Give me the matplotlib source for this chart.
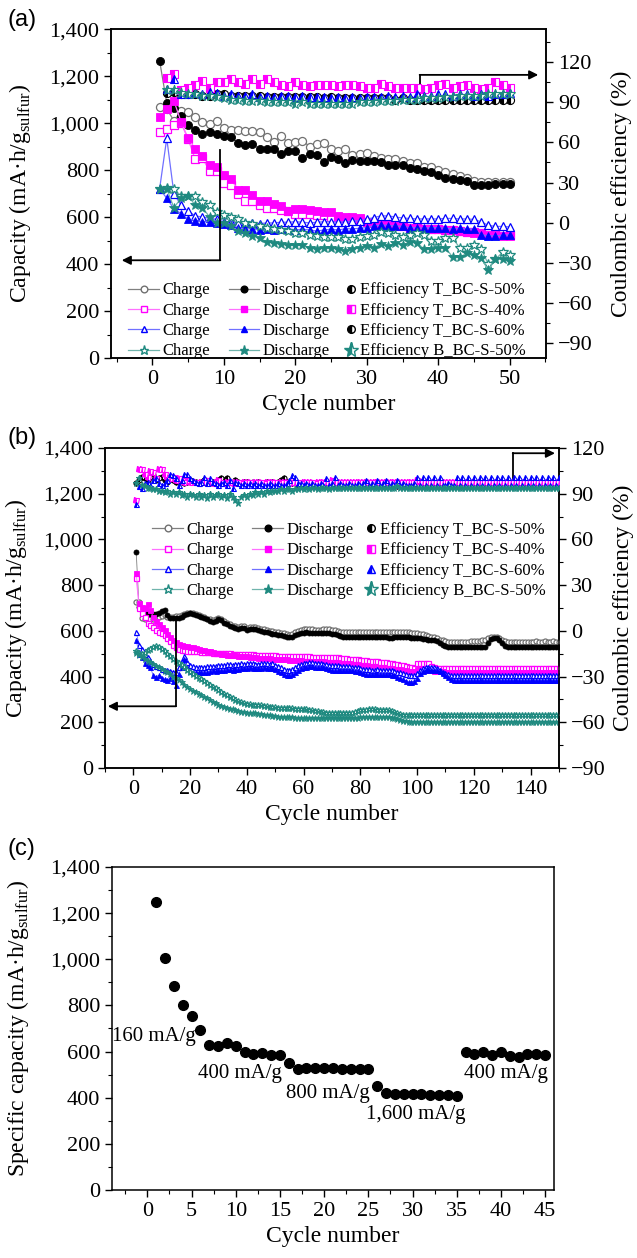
#!/usr/bin/env python3
"""根据读取的循环数据绘制三联图 (a)(b)(c)，写出 out.png。"""

from __future__ import annotations

import matplotlib

matplotlib.use("Agg")
import matplotlib.pyplot as plt
from matplotlib.lines import Line2D
from matplotlib.ticker import FuncFormatter, MultipleLocator

plt.rcParams["font.family"] = ["Liberation Serif", "DejaVu Serif"]
plt.rcParams["mathtext.fontset"] = "custom"
plt.rcParams["mathtext.rm"] = "Liberation Serif"
plt.rcParams["axes.linewidth"] = 1.1

# ---------------- 数据：图 (a)，50 次循环 ----------------
A_CYCLES = list(range(1, 51))
A_EFF_CYCLES = list(range(2, 51))

A_T50_CHARGE = [1070, 1060, 1010, 1050, 1045, 1025, 1005, 995, 1010, 980,
                970, 970, 965, 965, 960, 940, 920, 945, 915, 920,
                925, 900, 910, 915, 890, 880, 890, 865, 870, 872,
                860, 852, 848, 845, 840, 832, 830, 815, 812, 800,
                790, 785, 773, 768, 752, 750, 748, 748, 750, 748]
A_T50_DISCHARGE = [1265, 1085, 1065, 1030, 990, 970, 955, 960, 955, 945,
                   940, 915, 905, 910, 890, 890, 890, 870, 880, 880,
                   850, 870, 865, 835, 855, 845, 828, 842, 840, 838,
                   840, 835, 822, 822, 820, 808, 805, 798, 790, 778,
                   765, 762, 758, 752, 738, 738, 738, 740, 742, 740]
A_T40_CHARGE = [960, 975, 990, 1000, 930, 845, 850, 795, 795, 745,
                735, 700, 670, 670, 650, 640, 640, 630, 625, 615,
                615, 615, 610, 610, 600, 600, 595, 590, 590, 580,
                575, 570, 565, 560, 560, 555, 555, 550, 550, 548,
                545, 545, 540, 538, 535, 532, 530, 528, 526, 525]
A_T40_DISCHARGE = [1025, 1060, 1095, 1005, 935, 890, 860, 820, 815, 780,
                   760, 715, 715, 695, 670, 670, 655, 645, 625, 635,
                   635, 630, 625, 620, 620, 605, 600, 600, 595, 580,
                   575, 570, 565, 565, 560, 555, 555, 550, 550, 550,
                   545, 545, 540, 535, 530, 530, 525, 525, 520, 520]
A_T60_CHARGE = [720, 935, 700, 650, 625, 605, 600, 595, 590, 580,
                580, 575, 575, 575, 572, 575, 575, 578, 578, 580,
                578, 575, 578, 580, 580, 578, 580, 582, 585, 590,
                598, 605, 605, 600, 596, 594, 592, 592, 592, 592,
                594, 594, 592, 592, 590, 580, 565, 560, 560, 558]
A_T60_DISCHARGE = [720, 680, 635, 615, 590, 585, 580, 580, 575, 570,
                   565, 555, 550, 550, 545, 548, 545, 548, 550, 545,
                   548, 545, 540, 545, 548, 545, 550, 550, 552, 555,
                   562, 566, 564, 562, 560, 555, 555, 552, 555, 555,
                   552, 550, 552, 550, 548, 525, 520, 520, 522, 525]
A_B50_CHARGE = [720, 725, 720, 690, 690, 690, 665, 650, 620, 610,
                600, 590, 575, 570, 560, 555, 550, 545, 540, 530,
                530, 525, 520, 515, 515, 515, 505, 505, 515, 520,
                525, 535, 530, 525, 515, 525, 530, 525, 500, 500,
                510, 510, 470, 470, 480, 465, 400, 420, 450, 440]
A_B50_DISCHARGE = [720, 720, 640, 680, 690, 650, 640, 600, 575, 575,
                   560, 540, 530, 520, 510, 495, 490, 485, 480, 480,
                   480, 470, 465, 470, 470, 465, 455, 465, 470, 475,
                   470, 485, 475, 490, 480, 495, 490, 465, 465, 470,
                   470, 430, 430, 445, 440, 425, 375, 420, 420, 415]

A_T50_EFF = [97, 98, 96, 96, 96, 95, 95, 96, 96, 95,
             95, 95, 95, 95, 94, 94, 94, 94, 94, 94,
             94, 94, 93, 94, 93, 93, 93, 93, 93, 93,
             93, 93, 92, 93, 92, 92, 92, 92, 92, 92,
             92, 92, 92, 92, 92, 92, 92, 92, 92]
A_T40_EFF = [108, 111, 99, 101, 103, 106, 101, 105, 105, 107,
             105, 104, 107, 104, 107, 105, 103, 102, 105, 103,
             102, 103, 103, 103, 102, 103, 103, 102, 101, 101,
             104, 102, 101, 101, 101, 101, 100, 101, 103, 104,
             101, 102, 103, 101, 100, 101, 105, 103, 101]
A_T60_EFF = [100, 107, 96, 96, 97, 96, 98, 97, 95, 96,
             95, 95, 96, 94, 95, 94, 95, 95, 94, 95,
             94, 94, 94, 93, 94, 93, 94, 93, 94, 94,
             94, 95, 94, 95, 94, 96, 95, 95, 96, 96,
             95, 96, 96, 95, 96, 95, 96, 96, 97]
A_B50_EFF = [99, 99, 97, 96, 96, 95, 95, 94, 93, 92,
             92, 91, 91, 91, 90, 90, 90, 90, 89, 90,
             89, 89, 89, 89, 89, 89, 89, 90, 90, 90,
             91, 91, 91, 92, 92, 92, 93, 93, 93, 94,
             94, 95, 95, 95, 95, 96, 96, 96, 96]

# ---------------- 数据：图 (b)，150 次循环 ----------------
B_CYCLES = list(range(1, 151))

B_T50_DISCHARGE = [
    945, 705, 690, 682, 677, 675, 672, 675, 680, 688,
    690, 670, 656, 655, 657, 655, 662, 668, 672, 677,
    675, 670, 664, 660, 655, 650, 645, 640, 645, 652,
    648, 636, 628, 620, 615, 612, 610, 614, 612, 605,
    608, 610, 610, 604, 598, 596, 594, 590, 588, 585,
    584, 580, 577, 574, 572, 575, 582, 588, 590, 592,
    593, 592, 590, 590, 591, 590, 590, 589, 589, 588,
    585, 580, 576, 574, 575, 574, 573, 574, 574, 574,
    574, 574, 573, 573, 572, 572, 572, 571, 571, 570,
    570, 571, 572, 572, 572, 572, 571, 570, 570, 570,
    568, 566, 564, 562, 560, 558, 555, 548, 540, 533,
    531, 531, 531, 531, 531, 531, 531, 531, 531, 531,
    531, 531, 531, 531, 545, 565, 569, 568, 560, 548,
    535, 530, 530, 530, 530, 530, 530, 530, 530, 530,
    530, 530, 530, 530, 530, 530, 530, 530, 530, 530]
B_T50_CHARGE = [
    728, 725, 655, 650, 650, 650, 652, 655, 660, 665,
    668, 662, 660, 662, 664, 663, 668, 672, 676, 680,
    679, 674, 668, 664, 659, 654, 650, 646, 651, 658,
    654, 642, 634, 628, 622, 620, 618, 622, 620, 614,
    616, 618, 618, 612, 608, 606, 604, 600, 598, 596,
    595, 592, 589, 586, 584, 588, 594, 600, 604, 606,
    607, 607, 606, 605, 605, 605, 606, 607, 606, 605,
    602, 598, 596, 596, 596, 595, 595, 596, 596, 596,
    595, 595, 594, 594, 594, 594, 593, 593, 593, 593,
    593, 594, 594, 594, 594, 594, 593, 592, 592, 591,
    588, 585, 582, 578, 575, 572, 568, 562, 558, 555,
    553, 552, 552, 552, 552, 552, 552, 553, 554, 555,
    556, 557, 558, 560, 570, 575, 575, 572, 568, 562,
    556, 553, 553, 553, 553, 553, 553, 553, 553, 553,
    553, 554, 553, 553, 554, 553, 553, 554, 553, 553]
B_T40_DISCHARGE = [
    855, 720, 705, 700, 718, 690, 660, 645, 628, 615,
    602, 588, 572, 560, 550, 542, 538, 535, 532, 530,
    528, 525, 522, 518, 515, 512, 510, 508, 505, 502,
    500, 498, 496, 495, 494, 493, 492, 490, 490, 488,
    486, 485, 484, 483, 482, 481, 480, 480, 479, 478,
    478, 477, 476, 475, 474, 473, 472, 472, 471, 470,
    470, 469, 468, 468, 467, 466, 466, 465, 465, 464,
    463, 462, 461, 460, 459, 458, 456, 455, 453, 452,
    450, 449, 447, 446, 444, 443, 441, 440, 439, 438,
    436, 435, 433, 432, 430, 428, 426, 424, 424, 432,
    434, 433, 432, 430, 428, 426, 425, 424, 423, 422,
    422, 422, 421, 421, 421, 421, 421, 421, 421, 421,
    421, 421, 421, 421, 421, 421, 421, 421, 421, 421,
    421, 421, 421, 421, 421, 421, 421, 421, 421, 421,
    421, 421, 421, 421, 421, 421, 421, 421, 421, 421]
B_T40_CHARGE = [
    830, 700, 680, 660, 635, 625, 615, 605, 595, 590,
    580, 570, 555, 540, 528, 522, 518, 515, 514, 513,
    512, 511, 510, 509, 508, 507, 506, 505, 504, 503,
    502, 502, 501, 501, 500, 500, 499, 499, 498, 498,
    497, 497, 496, 496, 495, 495, 494, 494, 493, 493,
    492, 492, 491, 491, 490, 490, 490, 489, 489, 488,
    488, 488, 487, 487, 487, 487, 487, 487, 486, 486,
    485, 484, 483, 482, 480, 479, 477, 476, 475, 474,
    472, 471, 470, 468, 467, 466, 464, 463, 462, 460,
    458, 456, 454, 452, 450, 447, 444, 440, 437, 458,
    459, 459, 459, 458, 445, 440, 438, 437, 437, 437,
    437, 437, 438, 437, 437, 438, 437, 437, 438, 437,
    437, 438, 437, 437, 438, 437, 437, 438, 437, 437,
    438, 437, 437, 438, 437, 437, 438, 437, 437, 438,
    437, 437, 438, 437, 437, 438, 437, 437, 438, 437]
B_T60_DISCHARGE = [
    560, 500, 485, 460, 450, 440, 405, 400, 405, 395,
    390, 385, 395, 380, 365, 410, 440, 478, 440, 425,
    420, 420, 418, 420, 422, 420, 425, 428, 425, 430,
    428, 430, 432, 435, 430, 432, 435, 438, 436, 438,
    440, 438, 437, 436, 438, 440, 438, 436, 438, 432,
    425, 418, 410, 405, 408, 412, 420, 430, 438, 440,
    442, 445, 445, 444, 443, 442, 440, 436, 432, 430,
    430, 430, 429, 428, 428, 428, 427, 426, 424, 420,
    414, 412, 411, 410, 410, 411, 412, 412, 411, 410,
    408, 405, 400, 395, 388, 382, 378, 378, 380, 395,
    415, 425, 430, 431, 430, 430, 428, 425, 415, 405,
    396, 390, 386, 385, 385, 385, 385, 385, 385, 385,
    385, 385, 385, 385, 385, 385, 385, 385, 385, 385,
    385, 385, 385, 385, 385, 385, 385, 385, 385, 385,
    385, 385, 385, 385, 385, 385, 385, 385, 385, 385]
B_T60_CHARGE = [
    595, 540, 520, 500, 485, 470, 455, 445, 440, 435,
    430, 428, 425, 422, 420, 440, 470, 488, 465, 450,
    445, 442, 440, 440, 442, 445, 445, 447, 448, 450,
    450, 452, 453, 455, 452, 454, 456, 458, 456, 458,
    460, 458, 457, 456, 458, 460, 458, 456, 458, 452,
    448, 440, 432, 428, 430, 435, 442, 450, 456, 458,
    460, 462, 462, 461, 460, 459, 457, 455, 452, 450,
    450, 449, 448, 447, 446, 445, 444, 442, 440, 438,
    434, 432, 431, 430, 430, 431, 430, 429, 428, 428,
    427, 425, 422, 418, 414, 410, 406, 405, 408, 415,
    428, 436, 440, 442, 442, 440, 436, 430, 422, 415,
    410, 408, 407, 407, 408, 407, 407, 408, 407, 407,
    408, 407, 407, 408, 407, 407, 408, 407, 407, 408,
    407, 407, 408, 407, 407, 408, 407, 407, 408, 407,
    407, 408, 407, 407, 408, 407, 407, 408, 407, 407]
B_B50_DISCHARGE = [
    505, 495, 485, 478, 470, 462, 455, 448, 440, 432,
    425, 418, 410, 400, 392, 385, 375, 365, 355, 345,
    338, 332, 325, 318, 312, 305, 298, 290, 283, 276,
    270, 265, 262, 258, 256, 254, 250, 246, 244, 242,
    242, 240, 240, 238, 236, 234, 232, 230, 228, 226,
    225, 224, 223, 222, 222, 221, 220, 220, 219, 219,
    218, 218, 218, 218, 218, 218, 218, 218, 218, 218,
    218, 218, 218, 218, 218, 218, 218, 219, 220, 221,
    222, 223, 224, 225, 225, 225, 224, 223, 222, 221,
    220, 218, 215, 210, 206, 204, 203, 203, 203, 203,
    203, 203, 203, 203, 203, 203, 203, 203, 203, 203,
    203, 203, 203, 203, 203, 203, 203, 203, 203, 203,
    203, 203, 203, 203, 203, 203, 203, 203, 203, 203,
    203, 203, 203, 203, 203, 203, 203, 203, 203, 203,
    203, 203, 203, 203, 203, 203, 203, 203, 203, 203]
B_B50_CHARGE = [
    510, 505, 500, 505, 515, 520, 528, 532, 528, 520,
    510, 500, 490, 478, 468, 460, 450, 440, 430, 420,
    410, 402, 395, 388, 380, 372, 364, 356, 348, 340,
    332, 325, 318, 312, 305, 298, 292, 288, 284, 280,
    278, 277, 276, 275, 274, 272, 270, 268, 266, 265,
    264, 263, 263, 262, 262, 261, 260, 260, 259, 258,
    256, 254, 252, 250, 248, 246, 244, 242, 241, 240,
    240, 240, 240, 240, 240, 241, 242, 245, 250, 253,
    254, 255, 256, 256, 256, 255, 255, 254, 254, 253,
    250, 246, 240, 235, 233, 232, 232, 232, 232, 232,
    232, 232, 232, 232, 232, 232, 232, 232, 232, 232,
    232, 232, 232, 232, 232, 232, 232, 232, 232, 232,
    232, 232, 232, 232, 232, 232, 232, 232, 232, 232,
    232, 232, 232, 232, 232, 232, 232, 232, 232, 232,
    232, 232, 232, 232, 232, 232, 232, 232, 232, 232]

B_T50_EFF = [
    97, 99, 101, 100, 99, 101, 102, 99, 100, 101,
    99, 98, 100, 99, 98, 99, 98, 97, 98, 99,
    98, 98, 97, 98, 99, 98, 97, 98, 98, 99,
    100, 99, 100, 98, 97, 99, 98, 97, 98, 98,
    97, 98, 97, 98, 97, 97, 98, 97, 98, 97,
    98, 99, 100, 98, 97, 97, 97, 96, 97, 97,
    97, 96, 97, 96, 96, 97, 96, 96, 96, 96,
    96, 95, 96, 96, 95, 96, 95, 96, 95, 95,
    96, 95, 95, 96, 95, 95, 96, 95, 95, 95,
    95, 96, 95, 95, 95, 96, 95, 95, 95, 95,
    95, 95, 96, 95, 95, 95, 95, 95, 96, 95,
    95, 95, 95, 95, 95, 95, 95, 95, 95, 95,
    95, 95, 95, 95, 96, 95, 95, 95, 95, 95,
    95, 95, 95, 95, 95, 95, 95, 95, 95, 95,
    95, 95, 95, 95, 95, 95, 95, 95, 95, 95]
B_T40_EFF = [
    86, 106, 106, 103, 101, 105, 104, 100, 106, 106,
    103, 101, 100, 101, 99, 100, 99, 98, 99, 98,
    98, 98, 97, 98, 98, 99, 98, 97, 98, 99,
    98, 97, 98, 98, 97, 98, 98, 97, 98, 98,
    98, 97, 98, 98, 98, 97, 98, 98, 98, 98,
    97, 98, 98, 98, 97, 98, 98, 98, 97, 98,
    98, 98, 98, 97, 98, 98, 98, 98, 98, 99,
    98, 98, 98, 98, 98, 98, 98, 98, 98, 98,
    98, 98, 98, 98, 98, 98, 98, 98, 98, 98,
    98, 98, 98, 98, 98, 98, 98, 98, 98, 99,
    98, 98, 98, 98, 98, 98, 98, 98, 98, 98,
    98, 98, 98, 98, 98, 98, 98, 98, 98, 98,
    98, 98, 98, 98, 98, 98, 98, 98, 98, 98,
    98, 98, 98, 98, 98, 98, 98, 98, 98, 98,
    98, 98, 98, 98, 98, 98, 98, 98, 98, 98]
B_T60_EFF = [
    83, 95, 94, 97, 98, 96, 99, 100, 97, 96,
    97, 99, 103, 102, 100, 96, 99, 103, 103, 100,
    99, 98, 97, 98, 101, 97, 100, 98, 97, 96,
    97, 98, 96, 99, 94, 98, 97, 96, 97, 96,
    97, 96, 97, 96, 97, 96, 96, 97, 96, 96,
    97, 96, 96, 97, 99, 102, 101, 97, 97, 96,
    97, 96, 97, 96, 96, 97, 96, 100, 96, 97,
    101, 96, 97, 96, 96, 97, 96, 96, 97, 96,
    97, 99, 96, 97, 96, 99, 96, 97, 99, 96,
    97, 96, 99, 96, 97, 96, 96, 96, 97, 101,
    96, 101, 96, 101, 96, 101, 96, 101, 96, 96,
    97, 96, 96, 101, 96, 101, 96, 101, 96, 101,
    96, 101, 96, 101, 96, 101, 96, 101, 96, 101,
    96, 101, 96, 101, 96, 101, 96, 101, 96, 101,
    96, 101, 96, 101, 96, 101, 96, 101, 96, 101]
B_B50_EFF = [
    97, 100, 96, 95, 94, 94, 93, 93, 92, 92,
    91, 92, 90, 91, 90, 91, 89, 90, 88, 90,
    89, 88, 90, 88, 89, 87, 90, 88, 89, 90,
    88, 89, 87, 90, 88, 86, 84, 88, 89, 88,
    90, 89, 91, 90, 91, 90, 92, 91, 92, 92,
    92, 93, 92, 93, 93, 92, 93, 93, 94, 93,
    94, 93, 94, 94, 93, 94, 94, 94, 93, 94,
    94, 94, 94, 94, 94, 94, 94, 94, 94, 94,
    94, 94, 94, 94, 94, 94, 94, 94, 94, 94,
    94, 94, 95, 94, 94, 94, 94, 94, 94, 94,
    94, 94, 94, 94, 94, 94, 94, 94, 94, 94,
    94, 94, 94, 94, 94, 94, 94, 94, 94, 94,
    94, 94, 94, 94, 94, 94, 94, 94, 94, 94,
    94, 94, 94, 94, 94, 94, 94, 94, 94, 94,
    94, 94, 94, 94, 94, 94, 94, 94, 94, 94]

# ---------------- 数据：图 (c)，倍率性能 ----------------
C_CYCLES = list(range(1, 46))
C_CAPACITY = [1250, 1005, 885, 800, 755, 695, 630, 625, 635, 625,
              600, 590, 595, 585, 585, 550, 525, 530, 530, 530,
              528, 525, 525, 525, 525, 450, 420, 415, 415, 415,
              415, 412, 412, 410, 408, 600, 590, 598, 585, 598,
              582, 578, 590, 590, 585]
C_RATE_LABELS = ["160 mA/g", "400 mA/g", "800 mA/g", "1,600 mA/g", "400 mA/g"]

# ---------------- 样式 ----------------
MATERIALS = ["T_BC-S-50%", "T_BC-S-40%", "T_BC-S-60%", "B_BC-S-50%"]
MARKERS = ["o", "s", "^", "*"]
COLORS = ["#000000", "#ff00ff", "#0000ff", "#1f8a80"]
LINE_COLORS = ["#808080", "#ff70ff", "#7070ff", "#70b4ac"]
CHARGE_EDGES = ["#707070", "#ff00ff", "#0000ff", "#1f8a80"]
LABEL_SIZE = 17
TICK_SIZE = 16
NOTE_SIZE = 15
LEGEND_SIZE = 12
SANS = ["Liberation Sans", "DejaVu Sans"]
CAP_LABEL = "Capacity (mA\u00b7h/g$_\\mathregular{sulfur}$)"


def thousands(value, _pos):
    return f"{value:,.0f}"


def signed(value, _pos):
    return f"{value:.0f}".replace("-", "\u2212")


def marker_size(marker: str, base: float) -> float:
    return base * 1.35 if marker == "*" else base


# 设置刻度样式（外向刻度，带次刻度）。
def style_ticks(ax) -> None:
    ax.tick_params(axis="both", which="major", direction="out", length=5, width=1.0, labelsize=TICK_SIZE)
    ax.tick_params(axis="both", which="minor", direction="out", length=3, width=0.8)


# 画折线箭头：先竖线再横向箭头。
def elbow_arrow(ax, x0: float, y0: float, y1: float, x1: float) -> None:
    ax.plot([x0, x0], [y0, y1], color="k", lw=1.3, zorder=6)
    ax.annotate(
        "",
        xy=(x1, y1),
        xytext=(x0, y1),
        arrowprops=dict(arrowstyle="-|>", color="k", lw=1.3, mutation_scale=13, shrinkA=0, shrinkB=0),
        zorder=6,
    )


# 画容量/效率循环图（图 a 与图 b 共用）。
def draw_cycle_panel(ax, cycles, charges, discharges, eff_cycles, effs, base_ms, lw):
    ax2 = ax.twinx()
    for i in range(4):
        ms = marker_size(MARKERS[i], base_ms)
        ax.plot(cycles, charges[i], color=LINE_COLORS[i], lw=lw, marker=MARKERS[i], ms=ms,
                mfc="white", mec=CHARGE_EDGES[i], mew=0.9, zorder=3)
        ax.plot(cycles, discharges[i], color=LINE_COLORS[i], lw=lw, marker=MARKERS[i], ms=ms,
                mfc=COLORS[i], mec=COLORS[i], mew=0.6, zorder=3)
        ax2.plot(eff_cycles, effs[i], linestyle="none", marker=MARKERS[i], ms=ms,
                 color=COLORS[i], fillstyle="left", mfc=COLORS[i], mfcalt="white",
                 mec=COLORS[i], mew=0.8, zorder=3)
    return ax2


# 图例分两块：充/放电两列带连线，效率一列只有标记。
def add_legends(ax, x_cd: float, x_eff: float, y: float, t60_eff_as_circle: bool) -> None:
    charge, discharge, eff = [], [], []
    for i in range(4):
        ms = 6.5 if MARKERS[i] == "*" else 4.8
        charge.append(Line2D([], [], color=LINE_COLORS[i], lw=0.9, marker=MARKERS[i], ms=ms,
                             mfc="white", mec=CHARGE_EDGES[i], label="Charge"))
        discharge.append(Line2D([], [], color=LINE_COLORS[i], lw=0.9, marker=MARKERS[i], ms=ms,
                                mfc=COLORS[i], mec=COLORS[i], label="Discharge"))
        marker, color = MARKERS[i], COLORS[i]
        if i == 2 and t60_eff_as_circle:
            marker, color = "o", "#000000"
        eff_ms = 11 if marker == "*" else 5.5
        eff.append(Line2D([], [], linestyle="none", marker=marker, ms=eff_ms, color=color,
                          fillstyle="left", mfc=color, mfcalt="white", mec=color,
                          label=f"Efficiency {MATERIALS[i]}"))
    common = dict(loc="lower left", frameon=False, fontsize=LEGEND_SIZE, borderpad=0.0,
                  borderaxespad=0.0, labelspacing=0.26, handletextpad=0.2)
    leg1 = ax.legend(handles=charge + discharge, ncol=2, bbox_to_anchor=(x_cd, y),
                     handlelength=1.85, columnspacing=1.1, **common)
    ax.add_artist(leg1)
    ax.legend(handles=eff, ncol=1, bbox_to_anchor=(x_eff, y), handlelength=0.7, **common)


def setup_capacity_axis(ax, xlim, x_major, x_minor):
    ax.set_xlim(*xlim)
    ax.set_ylim(0, 1400)
    ax.xaxis.set_major_locator(MultipleLocator(x_major))
    ax.xaxis.set_minor_locator(MultipleLocator(x_minor))
    ax.yaxis.set_major_locator(MultipleLocator(200))
    ax.yaxis.set_minor_locator(MultipleLocator(100))
    ax.yaxis.set_major_formatter(FuncFormatter(thousands))
    ax.set_xlabel("Cycle number", fontsize=LABEL_SIZE)
    style_ticks(ax)


def setup_eff_axis(ax2, ylim, label_x):
    ax2.set_ylim(*ylim)
    ax2.yaxis.set_major_locator(MultipleLocator(30))
    ax2.yaxis.set_minor_locator(MultipleLocator(15))
    ax2.yaxis.set_major_formatter(FuncFormatter(signed))
    ax2.tick_params(axis="y", which="major", direction="out", length=5, width=1.0, labelsize=TICK_SIZE)
    ax2.tick_params(axis="y", which="minor", direction="out", length=3, width=0.8)
    ax2.set_ylabel("Coulombic efficiency (%)", fontsize=LABEL_SIZE)
    ax2.yaxis.set_label_coords(label_x, 0.5)


def main() -> int:
    fig = plt.figure(figsize=(6.37, 12.58), dpi=100)

    # 图 (a)
    ax_a = fig.add_axes([0.1743, 0.7154, 0.6830, 0.2615])
    ax2_a = draw_cycle_panel(
        ax_a, A_CYCLES,
        [A_T50_CHARGE, A_T40_CHARGE, A_T60_CHARGE, A_B50_CHARGE],
        [A_T50_DISCHARGE, A_T40_DISCHARGE, A_T60_DISCHARGE, A_B50_DISCHARGE],
        A_EFF_CYCLES, [A_T50_EFF, A_T40_EFF, A_T60_EFF, A_B50_EFF],
        base_ms=5.8, lw=0.9,
    )
    setup_capacity_axis(ax_a, (-5.8, 55.1), 10, 5)
    ax_a.set_ylabel(CAP_LABEL, fontsize=LABEL_SIZE)
    ax_a.yaxis.set_label_coords(-0.179, 0.5)
    setup_eff_axis(ax2_a, (-101.2, 144.7), 1.149)
    elbow_arrow(ax_a, 9.5, 884, 416, -4.3)
    elbow_arrow(ax_a, 37.4, 1110, 1205, 54.0)
    add_legends(ax2_a, 0.040, 0.538, -0.004, True)
    fig.text(0.012, 0.984, "(a)", fontsize=17, family=SANS, va="center")

    # 图 (b)
    ax_b = fig.add_axes([0.1648, 0.3895, 0.7127, 0.2544])
    ax2_b = draw_cycle_panel(
        ax_b, B_CYCLES,
        [B_T50_CHARGE, B_T40_CHARGE, B_T60_CHARGE, B_B50_CHARGE],
        [B_T50_DISCHARGE, B_T40_DISCHARGE, B_T60_DISCHARGE, B_B50_DISCHARGE],
        B_CYCLES, [B_T50_EFF, B_T40_EFF, B_T60_EFF, B_B50_EFF],
        base_ms=3.6, lw=0.6,
    )
    setup_capacity_axis(ax_b, (-10, 150), 20, 10)
    ax_b.set_ylabel(CAP_LABEL, fontsize=LABEL_SIZE)
    ax_b.yaxis.set_label_coords(-0.167, 0.5)
    setup_eff_axis(ax2_b, (-90, 120), 1.119)
    elbow_arrow(ax_b, 15.0, 648, 270, -9.0)
    elbow_arrow(ax_b, 133.7, 1267, 1377, 148.6)
    add_legends(ax2_b, 0.104, 0.573, 0.528, False)
    fig.text(0.012, 0.652, "(b)", fontsize=17, family=SANS, va="center")

    # 图 (c)
    ax_c = fig.add_axes([0.1758, 0.0541, 0.6939, 0.2567])
    ax_c.plot(C_CYCLES, C_CAPACITY, linestyle="none", marker="o", ms=7, color="k", zorder=3)
    setup_capacity_axis(ax_c, (-4, 46), 5, 2.5)
    ax_c.set_ylabel("Specific capacity (mA\u00b7h/g$_\\mathregular{sulfur}$)", fontsize=LABEL_SIZE)
    ax_c.yaxis.set_label_coords(-0.183, 0.5)
    label_pos = [(0.75, 665), (10.5, 505), (20.4, 420), (30.4, 325), (40.6, 505)]
    for text, (x, y) in zip(C_RATE_LABELS, label_pos):
        ax_c.text(x, y, text, fontsize=NOTE_SIZE, ha="center", va="center")
    fig.text(0.012, 0.325, "(c)", fontsize=17, family=SANS, va="center")

    fig.savefig("out.png", dpi=100)
    plt.close(fig)
    return 0


if __name__ == "__main__":
    raise SystemExit(main())
